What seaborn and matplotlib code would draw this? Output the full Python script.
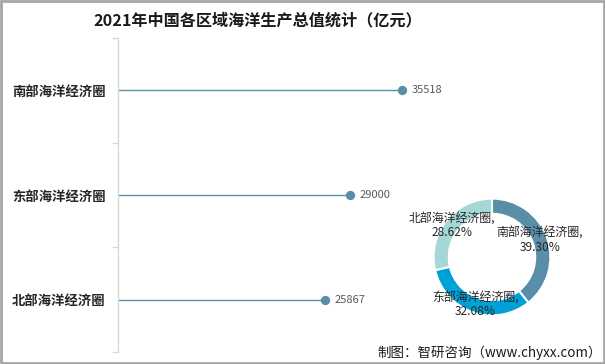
import matplotlib
matplotlib.use("Agg")
import matplotlib.pyplot as plt
import seaborn as sns
import pandas as pd
import numpy as np
from matplotlib.patches import Rectangle

sns.set_theme(style="white")
plt.rcParams['font.family'] = ['Noto Sans CJK SC', 'DejaVu Sans']

# ---- data ----
categories = ["南部海洋经济圈", "东部海洋经济圈", "北部海洋经济圈"]
values = [35518, 29000, 25867]
pct_labels = ["39.30%", "32.08%", "28.62%"]
title = "2021年中国各区域海洋生产总值统计（亿元）"
source = "制图：智研咨询（www.chyxx.com）"

line_color = "#5a8ea8"
pie_colors = ["#5a8ea8", "#00a0d8", "#a3d8d6"]

df = pd.DataFrame({"region": categories, "value": values, "pos": range(len(categories))})

fig = plt.figure(figsize=(6.05, 3.64), dpi=100)

# ---- lollipop axes ----
ax = fig.add_axes([118 / 605, 1 - 352 / 364, 480 / 605, 314 / 364])
ax.hlines(df["pos"], 0, df["value"], color=line_color, linewidth=1.0, zorder=1)
sns.scatterplot(data=df, x="value", y="pos", ax=ax, color=line_color, s=45,
                edgecolor=line_color, linewidth=0, zorder=2, legend=False)
for _, r in df.iterrows():
    ax.annotate(f"{r['value']}", (r["value"], r["pos"]), xytext=(7, 0),
                textcoords="offset points", va="center", ha="left",
                fontsize=8, color="#595959")

ax.set_xlim(0, 60000)
ax.set_ylim(len(categories) - 0.5, -0.5)
ax.set_yticks([i - 0.5 for i in range(len(categories) + 1)])
ax.set_yticklabels([])
ax.set_yticks(list(df["pos"]), minor=True)
ax.set_yticklabels(categories, minor=True, fontsize=9.6, fontweight="bold", color="#262626")
ax.tick_params(axis="y", which="major", length=4, color="#d9d9d9", width=1, left=True)
ax.tick_params(axis="y", which="minor", length=0, pad=9)
ax.set_xticks([])
ax.set_xlabel("")
ax.set_ylabel("")
for s in ["top", "right", "bottom"]:
    ax.spines[s].set_visible(False)
ax.spines["left"].set_color("#d9d9d9")
ax.spines["left"].set_linewidth(1)
ax.set_facecolor("none")

# ---- donut axes ----
ax2 = fig.add_axes([(492 - 73) / 605, 1 - 330 / 364, 146 / 605, 146 / 364])
wedges, texts = ax2.pie(values, colors=pie_colors, startangle=90, counterclock=False,
                        wedgeprops=dict(width=0.26, edgecolor="white", linewidth=1.5))
total = sum(values)
ang = 90.0
for cat, v, p in zip(categories, values, pct_labels):
    span = v / total * 360
    mid = np.deg2rad(ang - span / 2)
    ax2.text(0.87 * np.cos(mid), 0.87 * np.sin(mid), f"{cat},\n{p}", ha="center",
             va="center", fontsize=8.6, color="#262626", linespacing=1.05)
    ang -= span
ax2.set_aspect("equal")

# ---- texts ----
fig.text(258 / 605, 1 - 20 / 364, title, ha="center", va="center", fontsize=11.6,
         fontweight="bold", color="#1a1a1a")
fig.text(602 / 605, 1 - 353 / 364, source, ha="right", va="center", fontsize=9.7,
         color="#1a1a1a")

fig.patches.append(Rectangle((0.001, 0.002), 0.997, 0.995, transform=fig.transFigure,
                             fill=False, edgecolor="#a6a6a6", linewidth=2))

fig.savefig("out.png", dpi=100)
